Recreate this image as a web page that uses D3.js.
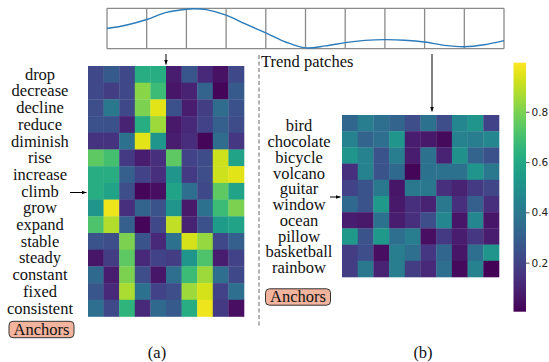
<!DOCTYPE html>
<html>
<head>
<meta charset="utf-8">
<script src="https://cdn.jsdelivr.net/npm/d3@7"></script>
<style>
  body { margin: 0; background: #fff; }
</style>
</head>
<body>
<svg id="fig" width="549" height="362"></svg>
<script>
// anchor words
const trendWords = ["drop", "decrease", "decline", "reduce", "diminish", "rise", "increase", "climb",
  "grow", "expand", "stable", "steady", "constant", "fixed", "consistent"];
const otherWords = ["bird", "chocolate", "bicycle", "volcano", "guitar", "window", "ocean", "pillow",
  "basketball", "rainbow"];

// similarity of each anchor word (row) to each trend patch (column)
const trendCells = [
  [0.22, 0.28, 0.22, 0.62, 0.62, 0.08, 0.27, 0.12, 0.05, 0.22],
  [0.22, 0.18, 0.22, 0.82, 0.68, 0.06, 0.10, 0.32, 0.02, 0.28],
  [0.24, 0.40, 0.22, 0.80, 0.95, 0.25, 0.08, 0.18, 0.35, 0.25],
  [0.25, 0.25, 0.10, 0.62, 0.85, 0.07, 0.12, 0.20, 0.30, 0.23],
  [0.15, 0.15, 0.38, 0.95, 0.52, 0.08, 0.13, 0.02, 0.35, 0.16],
  [0.75, 0.70, 0.17, 0.08, 0.14, 0.75, 0.20, 0.23, 0.92, 0.58],
  [0.62, 0.62, 0.30, 0.20, 0.14, 0.52, 0.17, 0.24, 0.92, 0.95],
  [0.62, 0.58, 0.24, 0.02, 0.04, 0.58, 0.36, 0.22, 0.75, 0.58],
  [0.52, 0.97, 0.14, 0.32, 0.26, 0.52, 0.07, 0.38, 0.68, 0.80],
  [0.72, 0.88, 0.30, 0.02, 0.22, 0.90, 0.10, 0.25, 0.55, 0.58],
  [0.26, 0.24, 0.80, 0.26, 0.12, 0.38, 0.93, 0.84, 0.22, 0.30],
  [0.06, 0.18, 0.75, 0.12, 0.20, 0.18, 0.52, 0.72, 0.08, 0.20],
  [0.34, 0.08, 0.80, 0.24, 0.06, 0.36, 0.68, 0.85, 0.36, 0.22],
  [0.27, 0.12, 0.87, 0.38, 0.20, 0.24, 0.85, 0.93, 0.20, 0.36],
  [0.36, 0.22, 0.65, 0.12, 0.34, 0.28, 0.62, 0.97, 0.17, 0.04]
];
const otherCells = [
  [0.33, 0.42, 0.36, 0.32, 0.24, 0.38, 0.24, 0.46, 0.52, 0.20],
  [0.44, 0.32, 0.36, 0.52, 0.08, 0.07, 0.03, 0.44, 0.42, 0.46],
  [0.52, 0.44, 0.26, 0.42, 0.08, 0.38, 0.10, 0.50, 0.32, 0.25],
  [0.14, 0.44, 0.26, 0.34, 0.02, 0.38, 0.38, 0.38, 0.52, 0.40],
  [0.20, 0.26, 0.40, 0.06, 0.40, 0.40, 0.14, 0.10, 0.17, 0.21],
  [0.34, 0.26, 0.54, 0.07, 0.14, 0.10, 0.40, 0.14, 0.30, 0.14],
  [0.08, 0.07, 0.38, 0.08, 0.14, 0.24, 0.46, 0.06, 0.46, 0.06],
  [0.54, 0.26, 0.54, 0.36, 0.42, 0.04, 0.17, 0.08, 0.16, 0.08],
  [0.18, 0.24, 0.04, 0.42, 0.36, 0.16, 0.33, 0.06, 0.36, 0.52],
  [0.18, 0.40, 0.10, 0.42, 0.18, 0.12, 0.36, 0.03, 0.44, 0.01]
];

// the time series split into patches (position in patch units, value)
const patchCount = 10;
const seriesPos = [0, 0.5, 1, 1.5, 2, 2.2, 2.5, 3, 3.5, 4, 4.5, 5, 5.5, 6, 6.5, 7, 7.5, 8, 8.5, 9, 9.5, 10];
const seriesVal = [0.50, 0.59, 0.73, 0.91, 0.99, 1.0, 0.98, 0.84, 0.61, 0.39, 0.16, 0.01, 0.06, 0.145,
  0.20, 0.22, 0.205, 0.16, 0.075, 0.04, 0.09, 0.195];

const cbarDomain = [0.005, 0.995];
const cbarTicks = [0.2, 0.4, 0.6, 0.8];

const svg = d3.select("#fig");
const color = d3.scaleSequential(d3.interpolateViridis).domain(cbarDomain);
const defs = svg.append("defs");

// arrow head
defs.append("marker")
  .attr("id", "head")
  .attr("viewBox", "0 0 10 10")
  .attr("refX", 10).attr("refY", 5)
  .attr("markerWidth", 5).attr("markerHeight", 5)
  .attr("orient", "auto")
  .append("path").attr("d", "M0,1 L10,5 L0,9 Z").attr("fill", "#000");

function arrow(x1, y1, x2, y2) {
  svg.append("line")
    .attr("x1", x1).attr("y1", y1).attr("x2", x2).attr("y2", y2)
    .attr("stroke", "#000").attr("stroke-width", 1)
    .attr("marker-end", "url(#head)");
}

function serifText(sel) {
  sel.style("font-family", '"Liberation Serif"').style("font-size", "16.5px").attr("fill", "#111");
}

// ---- trend series on top ----
const tx = d3.scaleLinear().domain([0, patchCount]).range([107, 504]);
const ty = d3.scaleLinear().domain([0, 1]).range([48.3, 8.8]);

const strip = svg.append("g");
strip.selectAll("line.patch")
  .data(d3.range(patchCount + 1))
  .enter().append("line")
  .attr("class", "patch")
  .attr("x1", d => tx(d)).attr("x2", d => tx(d))
  .attr("y1", 8.3).attr("y2", 48.7)
  .attr("stroke", "#8a8a8a").attr("stroke-width", 1.3);
strip.selectAll("line.edge")
  .data([8.3, 48.7])
  .enter().append("line")
  .attr("class", "edge")
  .attr("x1", tx(0)).attr("x2", tx(patchCount))
  .attr("y1", d => d).attr("y2", d => d)
  .attr("stroke", "#8a8a8a").attr("stroke-width", 1.3);

strip.append("path")
  .datum(seriesPos.map((p, i) => [p, seriesVal[i]]))
  .attr("fill", "none")
  .attr("stroke", "#2b7bba")
  .attr("stroke-width", 1.4)
  .attr("d", d3.line().x(d => tx(d[0])).y(d => ty(d[1])).curve(d3.curveCatmullRom));

// ---- heatmaps ----
function heatmap(cells, words, box, labelX, labelRange) {
  const cols = d3.range(cells[0].length);
  const x = d3.scaleBand().domain(cols).range([box.x0, box.x1]);
  const y = d3.scaleBand().domain(words).range([box.y0, box.y1]);
  const g = svg.append("g");
  cells.forEach((row, r) => {
    g.selectAll(null)
      .data(row)
      .enter().append("rect")
      .attr("x", (d, c) => x(c))
      .attr("y", y(words[r]))
      .attr("width", x.bandwidth() + 0.3)
      .attr("height", y.bandwidth() + 0.3)
      .attr("fill", d => color(d));
  });
  const ly = labelRange
    ? d3.scalePoint().domain(words).range(labelRange)
    : (w => y(w) + y.bandwidth() / 2);
  g.selectAll("text.word")
    .data(words)
    .enter().append("text")
    .attr("class", "word")
    .attr("x", labelX)
    .attr("y", d => ly(d))
    .attr("dy", "0.33em")
    .attr("text-anchor", "middle")
    .call(serifText)
    .text(d => d);
  return { x, y };
}

heatmap(trendCells, trendWords, { x0: 88, x1: 244, y0: 66, y1: 316.5 }, 40, null);
heatmap(otherCells, otherWords, { x0: 342, x1: 499, y0: 115, y1: 277 }, 299, [126, 267.5]);

// "Anchors" tags
function tag(cx, cy) {
  const g = svg.append("g");
  g.append("rect")
    .attr("x", cx - 32.5).attr("y", cy - 8.2)
    .attr("width", 65).attr("height", 16.4)
    .attr("rx", 4).attr("ry", 4)
    .attr("fill", "#f2b49d").attr("stroke", "#333").attr("stroke-width", 1);
  g.append("text")
    .attr("x", cx).attr("y", cy).attr("dy", "0.33em")
    .attr("text-anchor", "middle")
    .call(serifText)
    .text("Anchors");
}
tag(41.5, 329.5);
tag(298, 297);

// arrows
arrow(166, 54, 166, 64.5);
arrow(70, 192.5, 86.5, 192.5);
arrow(432, 54, 432, 111.5);
arrow(330, 197, 340.5, 197);

// dashed divider
svg.append("line")
  .attr("x1", 259).attr("x2", 259).attr("y1", 55).attr("y2", 326)
  .attr("stroke", "#666").attr("stroke-width", 1)
  .attr("stroke-dasharray", "4,2.5");

svg.append("text")
  .attr("x", 261).attr("y", 67)
  .call(serifText)
  .text("Trend patches");

// sub captions
svg.append("text").attr("x", 157).attr("y", 358).attr("text-anchor", "middle")
  .call(serifText).text("(a)");
svg.append("text").attr("x", 423).attr("y", 358).attr("text-anchor", "middle")
  .call(serifText).text("(b)");

// ---- colour bar ----
const cScale = d3.scaleLinear().domain(cbarDomain).range([311.7, 62.7]);
const grad = defs.append("linearGradient")
  .attr("id", "cbar").attr("x1", 0).attr("y1", 1).attr("x2", 0).attr("y2", 0);
grad.selectAll("stop")
  .data(d3.range(0, 1.0001, 0.05))
  .enter().append("stop")
  .attr("offset", d => d)
  .attr("stop-color", d => d3.interpolateViridis(d));
svg.append("rect")
  .attr("x", 513.5).attr("y", 62.7)
  .attr("width", 12.5).attr("height", 249)
  .attr("fill", "url(#cbar)");

const cAxis = svg.append("g")
  .attr("transform", "translate(526,0)")
  .call(d3.axisRight(cScale).tickValues(cbarTicks).tickSize(3.5).tickPadding(2).tickFormat(d3.format(".1f")));
cAxis.select(".domain").remove();
cAxis.selectAll("text")
  .style("font-family", '"DejaVu Sans"')
  .style("font-size", "10.5px")
  .attr("fill", "#222");
cAxis.selectAll("line").attr("stroke", "#222").attr("stroke-width", 0.8);
</script>
</body>
</html>
